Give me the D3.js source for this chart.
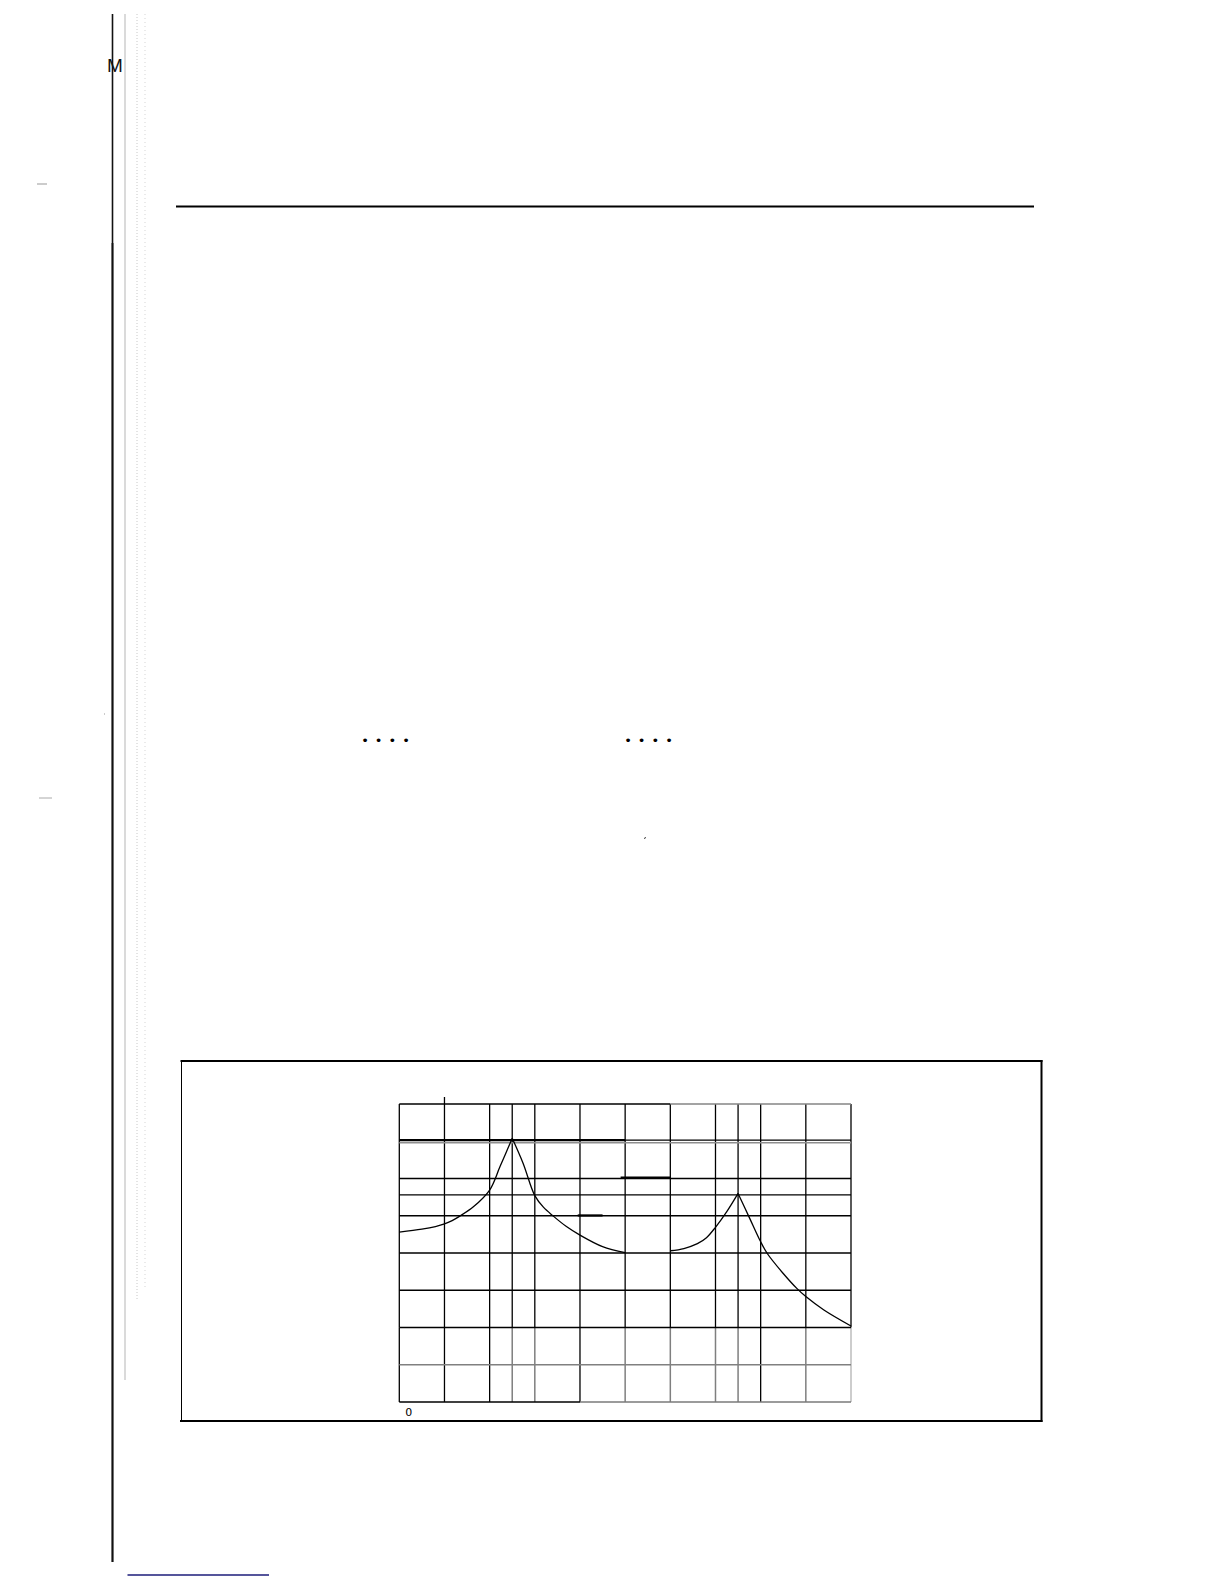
<!DOCTYPE html>
<html>
<head>
<meta charset="utf-8">
<script src="https://cdn.jsdelivr.net/npm/d3@7"></script>
<style>
  html, body { margin: 0; padding: 0; background: #fff; }
  svg { display: block; }
</style>
</head>
<body>
<svg id="page" width="1224" height="1584"></svg>
<script>
// ---- data ----
const xGrid = [0, 1, 2, 2.5, 3, 4, 5, 6, 7, 7.5, 8, 9, 10];
const yGrid = [0, 1, 2, 3, 4, 5, 5.56, 6, 7, 8];
const xTickLabels = [0];
const peak1X = [0, 0.5, 0.8, 1.0, 1.17, 1.34, 1.64, 2.0, 2.23, 2.5, 2.74, 3.0, 3.19, 3.41, 3.7, 4.0, 4.5, 5.0];
const peak1Y = [4.56, 4.64, 4.71, 4.78, 4.87, 4.99, 5.24, 5.69, 6.32, 7.08, 6.41, 5.54, 5.23, 4.99, 4.71, 4.48, 4.17, 4.01];
const peak2X = [6.0, 6.3, 6.6, 6.8, 7.0, 7.25, 7.5, 7.75, 8.0, 8.15, 8.5, 8.8, 9.0, 9.4, 10.0];
const peak2Y = [4.06, 4.12, 4.25, 4.41, 4.69, 5.11, 5.6, 4.95, 4.3, 3.98, 3.45, 3.05, 2.83, 2.47, 2.04];
const dotsA = [0, 1, 2, 3];

// ---- layout ----
const svg = d3.select("#page");
svg.append("rect").attr("width", 1224).attr("height", 1584).attr("fill", "#fff");

const x = d3.scaleLinear().domain([0, 10]).range([399.3, 851]);
const y = d3.scaleLinear().domain([0, 8]).range([1402, 1104]);

// ---- page decoration ----
const deco = svg.append("g");
deco.append("line").attr("x1", 112.5).attr("x2", 112.5).attr("y1", 243).attr("y2", 1562)
  .attr("stroke", "#9a9a9a").attr("stroke-width", 3);
deco.append("line").attr("x1", 112.5).attr("x2", 112.5).attr("y1", 14).attr("y2", 1562)
  .attr("stroke", "#111").attr("stroke-width", 1.6);
deco.append("line").attr("x1", 125).attr("x2", 125).attr("y1", 14).attr("y2", 1380)
  .attr("stroke", "#b5b5b5").attr("stroke-width", 1);
deco.append("line").attr("x1", 137).attr("x2", 137).attr("y1", 14).attr("y2", 1300)
  .attr("stroke", "#c8c8c8").attr("stroke-width", 1).attr("stroke-dasharray", "1,2");
deco.append("line").attr("x1", 145).attr("x2", 145).attr("y1", 14).attr("y2", 1290)
  .attr("stroke", "#d5d5d5").attr("stroke-width", 1).attr("stroke-dasharray", "1,3");
deco.append("text").attr("x", 115).attr("y", 72).attr("text-anchor", "middle")
  .attr("font-family", "Liberation Sans, sans-serif").attr("font-size", 19)
  .attr("fill", "#111").text("M");
deco.append("line").attr("x1", 37).attr("x2", 47).attr("y1", 184).attr("y2", 184)
  .attr("stroke", "#999").attr("stroke-width", 1);
deco.append("line").attr("x1", 39).attr("x2", 52).attr("y1", 798).attr("y2", 798)
  .attr("stroke", "#aaa").attr("stroke-width", 1);
deco.append("line").attr("x1", 104).attr("x2", 105).attr("y1", 714).attr("y2", 714)
  .attr("stroke", "#999").attr("stroke-width", 1);
// horizontal rule
deco.append("line").attr("x1", 176).attr("x2", 1034).attr("y1", 206.5).attr("y2", 206.5)
  .attr("stroke", "#000").attr("stroke-width", 2);
// leader dots
[365, 628].forEach(x0 => {
  deco.selectAll(null).data(dotsA).enter().append("text")
    .attr("x", d => x0 + d * 13.7).attr("y", 745).attr("text-anchor", "middle")
    .attr("font-family", "DejaVu Sans, sans-serif").attr("font-size", 13)
    .attr("fill", "#000").text("•");
});
deco.append("line").attr("x1", 644).attr("x2", 646).attr("y1", 838.5).attr("y2", 837.5)
  .attr("stroke", "#333").attr("stroke-width", 1);
// bottom blue rule
deco.append("line").attr("x1", 127.5).attr("x2", 269).attr("y1", 1575).attr("y2", 1575)
  .attr("stroke", "#1c1c7a").attr("stroke-width", 1.5);

// ---- figure frame ----
const frame = svg.append("g");
frame.append("line").attr("x1", 181.5).attr("x2", 181.5).attr("y1", 1060.5).attr("y2", 1422)
  .attr("stroke", "#000").attr("stroke-width", 1);
frame.append("line").attr("x1", 180.5).attr("x2", 1042.5).attr("y1", 1061).attr("y2", 1061)
  .attr("stroke", "#000").attr("stroke-width", 2);
frame.append("line").attr("x1", 1041.5).attr("x2", 1041.5).attr("y1", 1060).attr("y2", 1422)
  .attr("stroke", "#000").attr("stroke-width", 2);
frame.append("line").attr("x1", 180).attr("x2", 1042.5).attr("y1", 1421).attr("y2", 1421)
  .attr("stroke", "#000").attr("stroke-width", 2);

// ---- grid ----
const grid = svg.append("g");
const darkX = new Set([0, 1, 2, 4, 8]);
grid.selectAll(".vu").data(xGrid).enter().append("line")
  .attr("x1", d => x(d)).attr("x2", d => x(d))
  .attr("y1", d => d === 1 ? y(8) - 7 : y(8)).attr("y2", y(2))
  .attr("stroke", "#000").attr("stroke-width", 1.3);
grid.selectAll(".vl").data(xGrid).enter().append("line")
  .attr("x1", d => x(d)).attr("x2", d => x(d))
  .attr("y1", y(2)).attr("y2", y(0))
  .attr("stroke", d => darkX.has(d) ? "#000" : (d === 10 ? "#bdbdbd" : "#7f7f7f"))
  .attr("stroke-width", d => darkX.has(d) ? 1.3 : 1.5);

const hStyle = v => {
  if (v === 1) return [{a: 0, b: 10, c: "#808080", w: 1.5}];
  if (v === 8) return [{a: 0, b: 6, c: "#000", w: 1.3}, {a: 6, b: 10, c: "#858585", w: 1.5}];
  if (v === 0) return [{a: 0, b: 4, c: "#000", w: 1.3}, {a: 4, b: 10, c: "#7a7a7a", w: 1.6}];
  if (v === 7) return [{a: 0, b: 10, c: "#8f8f8f", w: 1.5, off: 1.5},
                       {a: 0, b: 5, c: "#000", w: 2.2, off: -1.2},
                       {a: 5, b: 10, c: "#000", w: 1.2, off: -1.2}];
  return [{a: 0, b: 10, c: "#000", w: 1.3}];
};
yGrid.forEach(v => {
  hStyle(v).forEach(s => {
    grid.append("line")
      .attr("x1", x(s.a)).attr("x2", x(s.b))
      .attr("y1", y(v) + (s.off || 0)).attr("y2", y(v) + (s.off || 0))
      .attr("stroke", s.c).attr("stroke-width", s.w);
  });
});
grid.append("line").attr("x1", x(4.9)).attr("x2", x(6)).attr("y1", y(6) - 0.8).attr("y2", y(6) - 0.8)
  .attr("stroke", "#000").attr("stroke-width", 2.4);
grid.append("line").attr("x1", x(3.95)).attr("x2", x(4.5)).attr("y1", y(5) - 0.3).attr("y2", y(5) - 0.3)
  .attr("stroke", "#000").attr("stroke-width", 2.2);

// ---- curves ----
const line = d3.line().x(d => x(d[0])).y(d => y(d[1])).curve(d3.curveCatmullRom.alpha(0.5));
function drawPeak(xs, ys) {
  const pts = xs.map((v, i) => [v, ys[i]]);
  const pk = d3.maxIndex(ys);
  [pts.slice(0, pk + 1), pts.slice(pk)].forEach(seg => {
    svg.append("path").datum(seg).attr("d", line)
      .attr("fill", "none").attr("stroke", "#000").attr("stroke-width", 1.3);
  });
}
drawPeak(peak1X, peak1Y);
drawPeak(peak2X, peak2Y);

// ---- axis label ----
const ax = svg.append("g").attr("transform", `translate(0, ${y(0) + 2})`)
  .call(d3.axisBottom(x).tickValues(xTickLabels).tickSize(0).tickPadding(4).tickFormat(d3.format("d")));
ax.select(".domain").remove();
ax.selectAll("text").attr("dx", 9).attr("font-size", 11)
  .attr("font-family", "DejaVu Sans, sans-serif").attr("fill", "#000");
</script>
</body>
</html>
